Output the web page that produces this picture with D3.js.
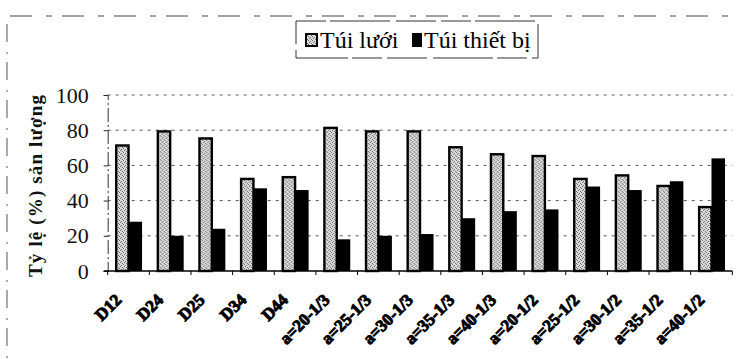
<!DOCTYPE html>
<html>
<head>
<meta charset="utf-8">
<script src="https://cdn.jsdelivr.net/npm/d3@7"></script>
<style>
  html, body { margin: 0; padding: 0; background: #fff; }
  svg { display: block; }
  svg text { font-family: "Liberation Serif", "Times New Roman", Times, "DejaVu Serif", serif; }
</style>
</head>
<body>
<div id="chart"></div>
<script>
// Categories along the x axis
const categories = ["D12", "D24", "D25", "D34", "D44",
  "a=20-1/3", "a=25-1/3", "a=30-1/3", "a=35-1/3", "a=40-1/3",
  "a=20-1/2", "a=25-1/2", "a=30-1/2", "a=35-1/2", "a=40-1/2"];

// Share of catch (%) for each gear part
const tuiLuoi   = [72, 80, 76, 53, 54, 82, 80, 80, 71, 67, 66, 53, 55, 49, 37];
const tuiThietBi = [28, 20, 24, 47, 46, 18, 20, 21, 30, 34, 35, 48, 46, 51, 64];

const seriesNames = ["Túi lưới", "Túi thiết bị"];
const yTicks = [0, 20, 40, 60, 80, 100];

const W = 739, H = 359;

const svg = d3.select("#chart").append("svg")
  .attr("width", W).attr("height", H);

// stippled grey fill for the "Túi lưới" bars
const defs = svg.append("defs");
const pat = defs.append("pattern")
  .attr("id", "stipple").attr("patternUnits", "userSpaceOnUse")
  .attr("width", 4).attr("height", 4);
pat.append("rect").attr("width", 4).attr("height", 4).attr("fill", "#dcdcdc");
[[0,0],[2,1],[1,2],[3,3]].forEach(([px, py]) =>
  pat.append("rect").attr("x", px).attr("y", py).attr("width", 1).attr("height", 1).attr("fill", "#6a6a6a"));

// outer frame fragments (chart area border)
svg.append("line").attr("x1", 10).attr("x2", 736).attr("y1", 16).attr("y2", 16)
  .attr("stroke", "#444").attr("stroke-width", 1).attr("stroke-dasharray", "22,14,6,10");
svg.append("line").attr("x1", 7).attr("x2", 7).attr("y1", 24).attr("y2", H)
  .attr("stroke", "#555").attr("stroke-width", 1).attr("stroke-dasharray", "18,10,2,8");

// plot area
const plot = { left: 107.7, right: 732.3, top: 95, bottom: 271 };

const x = d3.scaleBand().domain(categories)
  .range([plot.left, plot.right]).paddingInner(0.35).paddingOuter(0.175);
const xs = d3.scaleBand().domain(seriesNames).range([0, x.bandwidth()]);
const y = d3.scaleLinear().domain([0, 100]).range([plot.bottom, plot.top]);

// horizontal grid lines
svg.append("g").selectAll("line").data(yTicks.filter(d => d > 0)).join("line")
  .attr("x1", plot.left).attr("x2", plot.right)
  .attr("y1", d => y(d)).attr("y2", d => y(d))
  .attr("stroke", "#555").attr("stroke-width", 1).attr("stroke-dasharray", "3,5");

// y axis
const yAxis = svg.append("g").attr("transform", `translate(${plot.left},0)`)
  .call(d3.axisLeft(y).tickValues(yTicks).tickSize(4).tickPadding(15));
yAxis.attr("font-family", null);
yAxis.select(".domain").attr("stroke", "#333").attr("stroke-dasharray", "14,3,2,3");
yAxis.selectAll(".tick line").attr("stroke", "#222");
yAxis.selectAll(".tick text").attr("font-size", 22).attr("fill", "#111");

// y axis title
svg.append("text")
  .attr("transform", `translate(42,${(95 + 277) / 2}) rotate(-90)`)
  .attr("text-anchor", "middle")
  .attr("font-weight", "bold").attr("font-size", 19)
  .attr("textLength", 182).attr("lengthAdjust", "spacing")
  .attr("fill", "#111")
  .text("Tỷ lệ (%) sản lượng");

// bars
const groups = svg.append("g").selectAll("g").data(categories).join("g")
  .attr("transform", d => `translate(${x(d)},0)`);

const sw = 2.4;
groups.append("rect")
  .attr("x", xs("Túi lưới") + sw / 2)
  .attr("width", xs.bandwidth() - sw / 2)
  .attr("y", (d, i) => y(tuiLuoi[i]) + sw / 2)
  .attr("height", (d, i) => y(0) - y(tuiLuoi[i]) - sw / 2)
  .attr("fill", "url(#stipple)").attr("stroke", "#000").attr("stroke-width", sw);

groups.append("rect")
  .attr("x", xs("Túi thiết bị"))
  .attr("width", xs.bandwidth())
  .attr("y", (d, i) => y(tuiThietBi[i]))
  .attr("height", (d, i) => y(0) - y(tuiThietBi[i]))
  .attr("fill", "#000");

// x axis with boundary ticks
const xAxis = svg.append("g").attr("transform", `translate(0,${plot.bottom})`);
xAxis.append("line").attr("x1", plot.left - 4).attr("x2", plot.right)
  .attr("stroke", "#000").attr("stroke-width", 1.3);
const step = x.step();
xAxis.selectAll(".bt").data(d3.range(categories.length + 1)).join("line")
  .attr("class", "bt")
  .attr("x1", i => plot.left + i * step).attr("x2", i => plot.left + i * step)
  .attr("y1", 0).attr("y2", 4).attr("stroke", "#000");

// rotated category labels
svg.append("g").selectAll("text").data(categories).join("text")
  .attr("transform", d => `translate(${x(d) + x.bandwidth() / 2 - 6},301) rotate(-45)`)
  .attr("text-anchor", "end")
  .attr("font-weight", "bold").attr("font-size", 17)
  .attr("fill", "#000").attr("stroke", "#000").attr("stroke-width", 1)
  .text(d => d);

// legend
const lg = svg.append("g");
lg.append("rect").attr("x", 296).attr("y", 21).attr("width", 242).attr("height", 37)
  .attr("fill", "none").attr("stroke", "#333").attr("stroke-width", 1)
  .attr("stroke-dasharray", "30,4,60,6,40,5");
lg.append("rect").attr("x", 306).attr("y", 34).attr("width", 11).attr("height", 12)
  .attr("fill", "url(#stipple)").attr("stroke", "#000").attr("stroke-width", 2);
lg.append("text").attr("x", 320).attr("y", 48)
  .attr("font-size", 24).attr("fill", "#000")
  .text(seriesNames[0]);
lg.append("rect").attr("x", 412).attr("y", 33).attr("width", 10).attr("height", 14)
  .attr("fill", "#000");
lg.append("text").attr("x", 424).attr("y", 48)
  .attr("font-size", 24).attr("fill", "#000")
  .text(seriesNames[1]);
</script>
</body>
</html>
